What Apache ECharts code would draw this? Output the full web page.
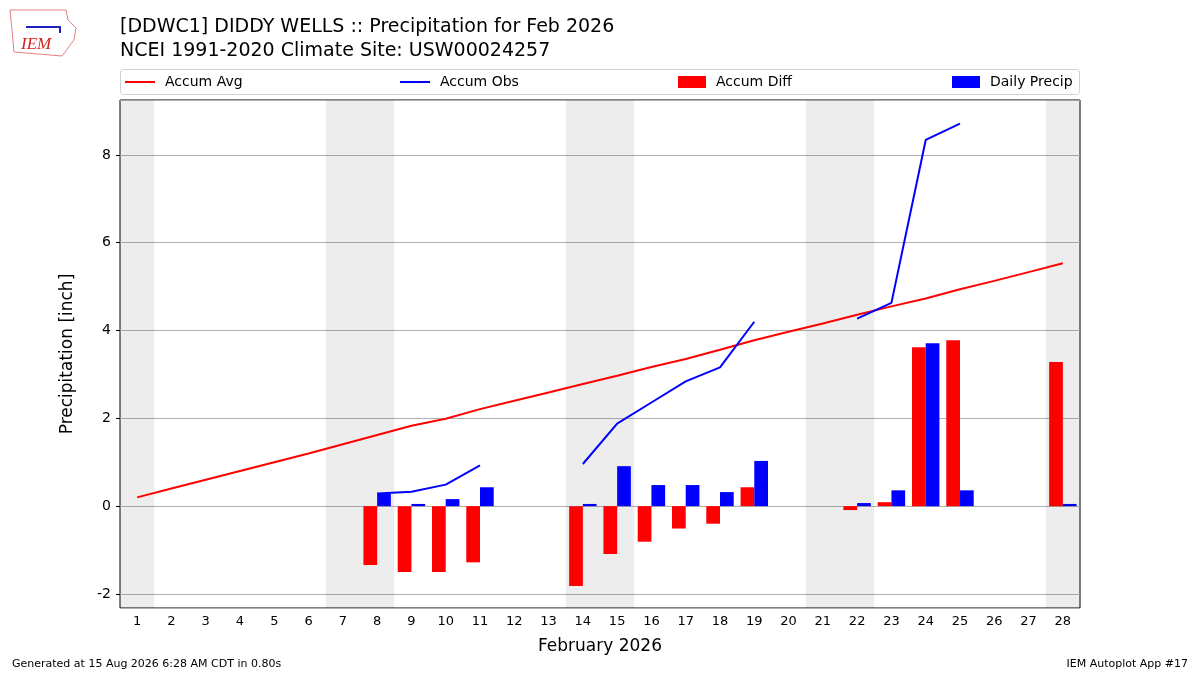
<!DOCTYPE html>
<html>
<head>
<meta charset="utf-8">
<script src="https://cdn.jsdelivr.net/npm/echarts@6/dist/echarts.min.js"></script>
<style>
  html, body { margin: 0; padding: 0; background: #fff; }
  #chart { width: 1200px; height: 675px; }
</style>
</head>
<body>
<div id="chart"></div>
<script>
// February 2026 daily precipitation, DDWC1
var days = ['1','2','3','4','5','6','7','8','9','10','11','12','13','14',
  '15','16','17','18','19','20','21','22','23','24','25','26','27','28'];
var weekendDays = [1, 7, 8, 14, 15, 21, 22, 28];

var accumAvg = [0.20, 0.40, 0.60, 0.80, 1.00, 1.20, 1.41, 1.62, 1.83, 1.99, 2.21, 2.40, 2.59, 2.78,
  2.97, 3.17, 3.35, 3.56, 3.78, 3.97, 4.16, 4.36, 4.55, 4.73, 4.94, 5.13, 5.33, 5.53];
var accumObs = [null, null, null, null, null, null, null, 0.29, 0.33, 0.49, 0.93, null, null, 0.96,
  1.88, 2.36, 2.84, 3.16, 4.20, null, null, 4.27, 4.63, 8.34, 8.71, null, null, null];
var accumDiff = [null, null, null, null, null, null, null, -1.34, -1.50, -1.50, -1.28, null, null, -1.82,
  -1.09, -0.81, -0.51, -0.40, 0.43, null, null, -0.09, 0.09, 3.62, 3.78, null, null, 3.28];
var dailyPrecip = [null, null, null, null, null, null, null, 0.29, 0.05, 0.16, 0.43, null, null, 0.05,
  0.91, 0.48, 0.48, 0.32, 1.03, null, null, 0.07, 0.36, 3.71, 0.36, null, null, 0.05];

var FONT = 'DejaVu Sans';

var chart = echarts.init(document.getElementById('chart'));

// one legend per entry so they can be spread across the box like matplotlib does
function legendAt(name, left, isLine) {
  return {
    data: [name],
    left: left,
    top: 75,
    padding: 0,
    icon: 'rect',
    itemWidth: isLine ? 30 : 28,
    itemHeight: isLine ? 2 : 12,
    itemGap: 0,
    textStyle: { fontFamily: FONT, fontSize: 14, color: '#000', padding: [0, 0, 0, 5] },
    selectedMode: false
  };
}

var option = {
  animation: false,
  backgroundColor: '#fff',
  title: {
    text: '[DDWC1] DIDDY WELLS :: Precipitation for Feb 2026\nNCEI 1991-2020 Climate Site: USW00024257',
    left: 115,
    top: 10,
    textStyle: { fontFamily: FONT, fontSize: 19, fontWeight: 'normal', color: '#000', lineHeight: 24 }
  },
  legend: [
    legendAt('Accum Avg', 125, true),
    legendAt('Accum Obs', 400, true),
    legendAt('Accum Diff', 678, false),
    legendAt('Daily Precip', 952, false)
  ],
  graphic: [
    {
      type: 'rect',
      shape: { x: 120.5, y: 69.5, width: 959, height: 25, r: 3 },
      style: { fill: 'none', stroke: '#d0d0d0', lineWidth: 1 },
      z: -1
    },
    {
      type: 'polygon',
      shape: { points: [[10, 10], [66, 10], [68, 20], [76, 28], [74, 40], [68, 48], [62, 56], [14, 52], [12, 30]] },
      style: { fill: 'none', stroke: '#e08080', lineWidth: 1 }
    },
    {
      type: 'text', left: 21, top: 36,
      style: { text: 'IEM', fill: '#d62020', font: 'italic 17px "Liberation Serif"' }
    },
    {
      type: 'polyline',
      shape: { points: [[26, 27], [60, 27], [60, 33]] },
      style: { stroke: '#2020c0', lineWidth: 2, fill: 'none' }
    },
    {
      type: 'text', left: 12, top: 659,
      style: { text: 'Generated at 15 Aug 2026 6:28 AM CDT in 0.80s', fill: '#000', font: '11px "DejaVu Sans"' }
    },
    {
      type: 'text', right: 12, top: 659,
      style: { text: 'IEM Autoplot App #17', fill: '#000', font: '11px "DejaVu Sans"' }
    }
  ],
  grid: {
    left: 120, right: 120, top: 100, bottom: 67,
    show: true, borderColor: '#000', borderWidth: 1, backgroundColor: 'transparent'
  },
  xAxis: {
    type: 'category',
    data: days,
    boundaryGap: true,
    name: 'February 2026',
    nameLocation: 'middle',
    nameGap: 30,
    nameTextStyle: { fontFamily: FONT, fontSize: 17, color: '#000' },
    axisLine: { show: false },
    axisTick: { alignWithLabel: true, length: 4, lineStyle: { color: '#000' } },
    axisLabel: { fontFamily: FONT, fontSize: 13, color: '#000', margin: 7, interval: 0 },
    splitLine: { show: false }
  },
  yAxis: {
    type: 'value',
    min: -2.32,
    max: 9.25,
    splitNumber: 5,
    name: 'Precipitation [inch]',
    nameLocation: 'middle',
    nameGap: 44,
    nameTextStyle: { fontFamily: FONT, fontSize: 17, color: '#000' },
    axisLine: { show: false },
    axisTick: { show: true, length: 4, lineStyle: { color: '#000' } },
    axisLabel: { fontFamily: FONT, fontSize: 14, color: '#000', margin: 9, showMinLabel: false, showMaxLabel: false },
    splitLine: { lineStyle: { color: '#b0b0b0', width: 1 } }
  },
  series: [
    {
      name: 'weekends',
      type: 'custom',
      silent: true,
      z: 0,
      data: weekendDays.map(function (d) { return [d - 1]; }),
      renderItem: function (params, api) {
        var c = api.coord([api.value(0), 0]);
        var w = api.size([1, 0])[0];
        var cs = params.coordSys;
        return {
          type: 'rect',
          shape: { x: c[0] - w / 2, y: cs.y, width: w, height: cs.height },
          style: { fill: 'rgba(0,0,0,0.07)' }
        };
      }
    },
    {
      name: 'Accum Diff',
      type: 'bar',
      data: accumDiff,
      barWidth: '40%',
      barGap: '0%',
      itemStyle: { color: '#ff0000' },
      z: 2
    },
    {
      name: 'Daily Precip',
      type: 'bar',
      data: dailyPrecip,
      barWidth: '40%',
      barGap: '0%',
      itemStyle: { color: '#0000ff' },
      z: 2
    },
    {
      name: 'Accum Avg',
      type: 'line',
      data: accumAvg,
      symbol: 'none',
      lineStyle: { color: '#ff0000', width: 2 },
      itemStyle: { color: '#ff0000' },
      z: 3
    },
    {
      name: 'Accum Obs',
      type: 'line',
      data: accumObs,
      symbol: 'none',
      connectNulls: false,
      lineStyle: { color: '#0000ff', width: 2 },
      itemStyle: { color: '#0000ff' },
      z: 3
    }
  ]
};

chart.setOption(option);
window.addEventListener('resize', function () { chart.resize(); });
</script>
</body>
</html>
